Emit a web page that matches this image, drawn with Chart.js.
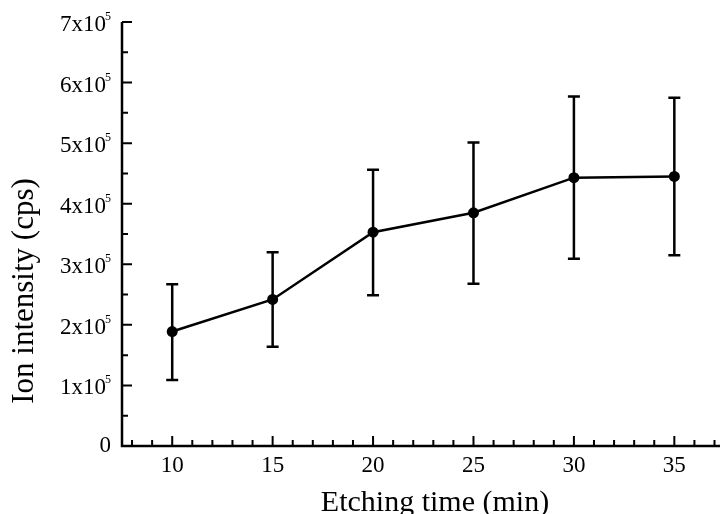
<!DOCTYPE html>
<html>
<head>
<meta charset="utf-8">
<script src="https://cdn.jsdelivr.net/npm/chart.js@4/dist/chart.umd.min.js"></script>
<style>
  body { margin: 0; background: #fff; }
  canvas { display: block; }
</style>
</head>
<body>
<canvas id="etch-canvas" width="720" height="514"></canvas>
<script>
var times = [10, 15, 20, 25, 30, 35];
var intensity = [1.89e5, 2.42e5, 3.53e5, 3.85e5, 4.43e5, 4.45e5];
var errUpper = [2.67e5, 3.20e5, 4.56e5, 5.01e5, 5.77e5, 5.75e5];
var errLower = [1.09e5, 1.64e5, 2.49e5, 2.68e5, 3.09e5, 3.15e5];

var xTickValues = [10, 15, 20, 25, 30, 35];
var xTickLabels = ['10', '15', '20', '25', '30', '35'];
var yTickValues = [0, 1e5, 2e5, 3e5, 4e5, 5e5, 6e5, 7e5];
var yTickLabels = ['0', '1x10^5', '2x10^5', '3x10^5', '4x10^5', '5x10^5', '6x10^5', '7x10^5'];

var xTitle = 'Etching time (min)';
var yTitle = 'Ion intensity (cps)';

var serif = "'Liberation Serif', 'Times New Roman', serif";

// error bars, drawn under the points
var errorBars = {
    id: 'errorBars',
    beforeDatasetsDraw: function(chart) {
        var ctx = chart.ctx;
        var x = chart.scales.x, y = chart.scales.y;
        ctx.save();
        ctx.strokeStyle = '#000';
        ctx.lineWidth = 2.5;
        for (var i = 0; i < times.length; i++) {
            var px = x.getPixelForValue(times[i]);
            var top = y.getPixelForValue(errUpper[i]);
            var bot = y.getPixelForValue(errLower[i]);
            ctx.beginPath();
            ctx.moveTo(px, top); ctx.lineTo(px, bot);
            ctx.moveTo(px - 6, top); ctx.lineTo(px + 6, top);
            ctx.moveTo(px - 6, bot); ctx.lineTo(px + 6, bot);
            ctx.stroke();
        }
        ctx.restore();
    }
};

// axes with inward ticks, labels and titles
var axesPlugin = {
    id: 'axesPlugin',
    afterDraw: function(chart) {
        var ctx = chart.ctx;
        var area = chart.chartArea;
        var x = chart.scales.x, y = chart.scales.y;
        ctx.save();
        ctx.strokeStyle = '#000';
        ctx.fillStyle = '#000';

        ctx.lineWidth = 2.5;
        ctx.beginPath();
        ctx.moveTo(area.left, area.top);
        ctx.lineTo(area.left, area.bottom);
        ctx.lineTo(chart.width, area.bottom);
        ctx.stroke();

        ctx.lineWidth = 2;
        ctx.beginPath();
        for (var v = 8; v <= 37; v++) {
            var px = x.getPixelForValue(v);
            var len = (v % 5 === 0) ? 10 : 6;
            ctx.moveTo(px, area.bottom);
            ctx.lineTo(px, area.bottom - len);
        }
        for (var k = 1; k <= 14; k++) {
            var py = y.getPixelForValue(k * 0.5e5);
            var l = (k % 2 === 0) ? 10 : 6;
            ctx.moveTo(area.left, py);
            ctx.lineTo(area.left + l, py);
        }
        ctx.stroke();

        ctx.font = '23px ' + serif;
        ctx.textAlign = 'center';
        ctx.textBaseline = 'alphabetic';
        xTickValues.forEach(function(val, i) {
            ctx.fillText(xTickLabels[i], x.getPixelForValue(val), area.bottom + 26);
        });

        var right = area.left - 11;
        yTickValues.forEach(function(val, i) {
            var py = y.getPixelForValue(val);
            var parts = yTickLabels[i].split('^');
            ctx.textAlign = 'right';
            if (parts.length === 1) {
                ctx.font = '23px ' + serif;
                ctx.fillText(parts[0], right, py + 5.5);
                return;
            }
            ctx.font = '12px ' + serif;
            var expW = ctx.measureText(parts[1]).width;
            ctx.fillText(parts[1], right, py - 2);
            ctx.font = '23px ' + serif;
            ctx.fillText(parts[0], right - expW + 1, py + 9);
        });

        ctx.font = '30px ' + serif;
        ctx.textAlign = 'center';
        ctx.fillText(xTitle, 435, 511);

        ctx.save();
        ctx.translate(33, 291);
        ctx.rotate(-Math.PI / 2);
        ctx.font = '31px ' + serif;
        ctx.fillText(yTitle, 0, 0);
        ctx.restore();

        ctx.restore();
    }
};

var points = times.map(function(t, i) { return { x: t, y: intensity[i] }; });

new Chart(document.getElementById('etch-canvas').getContext('2d'), {
    type: 'scatter',
    data: {
        datasets: [{
            label: 'Ion intensity',
            data: points,
            showLine: true,
            borderColor: '#000',
            borderWidth: 2.5,
            backgroundColor: '#000',
            pointBackgroundColor: '#000',
            pointBorderColor: '#000',
            pointRadius: 5.5,
            pointBorderWidth: 0,
            tension: 0
        }]
    },
    options: {
        responsive: false,
        animation: false,
        layout: { padding: { top: 22, right: 2, left: 0, bottom: 0 } },
        plugins: {
            legend: { display: false },
            tooltip: { enabled: false }
        },
        scales: {
            x: {
                type: 'linear',
                min: 7.5,
                max: 37,
                ticks: { display: false },
                grid: { display: false },
                border: { display: false },
                afterFit: function(scale) { scale.height = 68; }
            },
            y: {
                min: 0,
                max: 7e5,
                ticks: { display: false },
                grid: { display: false },
                border: { display: false },
                afterFit: function(scale) { scale.width = 122; }
            }
        }
    },
    plugins: [errorBars, axesPlugin]
});
</script>
</body>
</html>
